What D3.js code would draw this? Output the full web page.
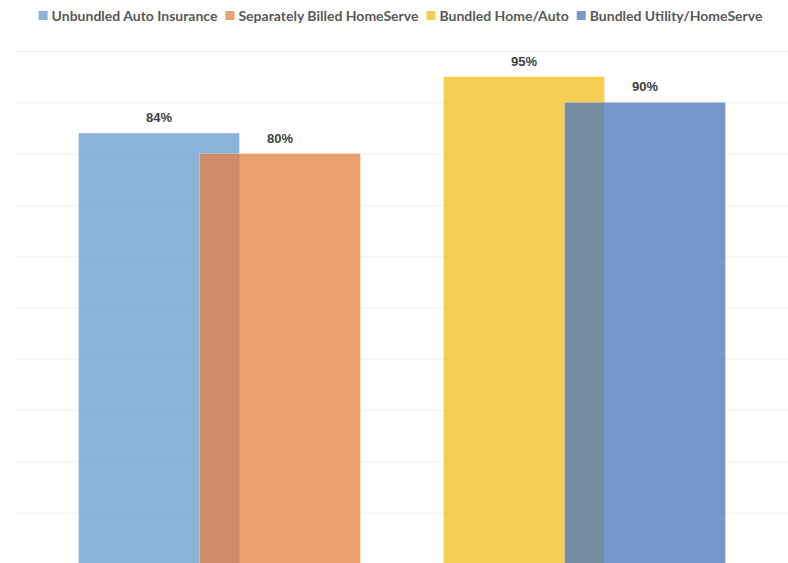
<!DOCTYPE html>
<html>
<head>
<meta charset="utf-8">
<script src="https://cdn.jsdelivr.net/npm/d3@7"></script>
<style>
  html, body { margin: 0; padding: 0; background: #fff; }
  svg { display: block; }
</style>
</head>
<body>
<svg id="chart" width="788" height="563"></svg>
<script>
// Survey results: share of customers, by billing arrangement
const categories = ["Unbundled", "Bundled"];
const seriesNames = [
  "Unbundled Auto Insurance",
  "Separately Billed HomeServe",
  "Bundled Home/Auto",
  "Bundled Utility/HomeServe"
];
const seriesColors = ["#639BD0", "#E4803F", "#F2BF18", "#4B76BB"];
// each category holds two overlapping bars: [series index, value]
const unbundledValues = [[0, 0.84], [1, 0.80]];
const bundledValues = [[2, 0.95], [3, 0.90]];
const gridTicks = [0.1, 0.2, 0.3, 0.4, 0.5, 0.6, 0.7, 0.8, 0.9, 1.0];

const groups = [
  { category: categories[0], bars: unbundledValues },
  { category: categories[1], bars: bundledValues }
];

const svg = d3.select("#chart");
const W = 788;

const plotLeft = 13, plotRight = 788;
const y = d3.scaleLinear().domain([0, 1]).range([564, 51]);
const x = d3.scaleBand().domain(categories).range([37, 767]).padding(0);

// horizontal gridlines
const grid = svg.append("g")
  .attr("transform", `translate(${plotLeft},0)`)
  .call(d3.axisLeft(y).tickValues(gridTicks).tickSize(-(plotRight - plotLeft)).tickFormat(""));
grid.select(".domain").remove();
grid.selectAll(".tick line").attr("stroke", "#F2F2F2").attr("stroke-width", 1);

// bar geometry inside each category band
const step = x.bandwidth();
const barW = step * 0.441;
const barShift = step * 0.3315;
const barX = (cat, i) => x(cat) + step / 2 - barW / 2 - barShift / 2 + i * barShift;

const fmt = d3.format(".0%");

groups.forEach(g => {
  const gg = svg.append("g");
  gg.selectAll("rect")
    .data(g.bars)
    .join("rect")
    .attr("x", (d, i) => barX(g.category, i))
    .attr("width", barW)
    .attr("y", d => y(d[1]))
    .attr("height", d => y(0) - y(d[1]))
    .attr("fill", d => seriesColors[d[0]])
    .attr("fill-opacity", 0.75)
    .attr("stroke", "#ffffff")
    .attr("stroke-opacity", 0.35)
    .attr("stroke-width", 0.75);

  gg.selectAll("text")
    .data(g.bars)
    .join("text")
    .attr("x", (d, i) => barX(g.category, i) + barW / 2)
    .attr("y", d => y(d[1]) - 11)
    .attr("text-anchor", "middle")
    .attr("font-family", "'Liberation Sans', Arial, sans-serif")
    .attr("font-weight", "bold")
    .attr("font-size", 13)
    .attr("fill", "#404040")
    .text(d => fmt(d[1]));
});

// legend, centred over the plot area
const legend = svg.append("g");
const items = legend.selectAll("g")
  .data(seriesNames)
  .join("g");
items.append("rect")
  .attr("width", 9).attr("height", 9)
  .attr("y", 11)
  .attr("fill", (d, i) => seriesColors[i])
  .attr("fill-opacity", 0.75);
items.append("text")
  .attr("x", 13)
  .attr("y", 21)
  .attr("font-family", "Lato, 'Open Sans', sans-serif")
  .attr("font-weight", "bold")
  .attr("font-size", 14)
  .attr("fill", "#595959")
  .text(d => d);

let cursor = 0;
items.each(function () {
  const t = d3.select(this).select("text").node().getComputedTextLength();
  d3.select(this).attr("transform", `translate(${cursor},0)`);
  cursor += 13 + t + 8;
});
const legendW = cursor - 8;
legend.attr("transform", `translate(${(plotLeft + plotRight) / 2 - legendW / 2},0)`);
</script>
</body>
</html>
